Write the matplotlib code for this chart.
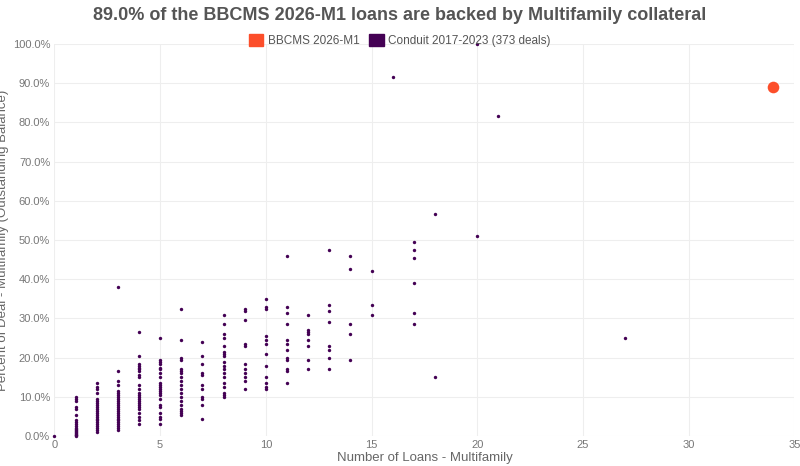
import matplotlib
matplotlib.use("Agg")
import matplotlib.pyplot as plt
from matplotlib.ticker import FuncFormatter
from matplotlib.patches import Patch

plt.rcParams['font.family'] = ['Liberation Sans', 'DejaVu Sans']

conduit_groups = {
    0: [0],
    1: [10, 9.5, 9, 7.5, 7, 5.5, 4, 3.5, 3, 2.5, 2, 1.8, 1.5, 1.2, 1, 0.8, 0.5, 0.3, 0.2, 0],
    2: [13.5, 12.5, 12, 11, 9.5, 9, 8.5, 8, 7.5, 7, 6.5, 6, 5.5, 5, 4.5, 4, 3.5, 3, 2.5, 2, 1.5, 1],
    3: [38, 16.5, 14, 13, 11.5, 11, 10.5, 10, 9.5, 9, 8.5, 8, 7.5, 7, 6.5, 6, 5.5, 5, 4.5, 4, 3.5, 3, 2.5, 2, 1.5],
    4: [26.5, 20.5, 18.5, 18, 17.5, 17, 16.5, 15.5, 15, 13, 12, 11, 10.5, 10, 9.5, 9, 8.5, 8, 7.5, 7, 6, 5, 4, 3],
    5: [25, 19.5, 19, 18.5, 17.5, 17, 16, 15, 13.5, 13, 12.5, 12, 11.5, 11, 10.5, 9.5, 8, 7.5, 6, 5, 4.5, 3],
    6: [32.5, 24.5, 20, 19.5, 17, 16.5, 16, 15, 14, 13, 12, 11, 10, 9, 8, 7, 6.5, 6, 5.5],
    7: [24, 20.5, 18.5, 16, 15.5, 13, 12, 10, 9.5, 8, 4.5],
    8: [31, 28.5, 26, 25, 23, 21.5, 21, 20.5, 19, 18, 17, 16, 15, 13.5, 12.5, 11, 10.5, 10],
    9: [32.5, 32, 29.5, 23.5, 23, 18.5, 17, 16, 15, 14, 12],
    10: [35, 33, 32.5, 25.5, 24.5, 23.5, 21, 18, 15, 13.5, 12.5, 12],
    11: [46, 33, 31.5, 28.5, 24.5, 23.5, 22, 20, 19.5, 17, 16.5, 13.5],
    12: [31, 27, 26.5, 26, 24.5, 23, 19.5, 17],
    13: [47.5, 33.5, 32, 29, 23, 22, 20, 17],
    14: [46, 42.5, 28.5, 26, 19.5],
    15: [42, 33.5, 31],
    16: [91.5],
    17: [49.5, 47.5, 45.5, 39, 31.5, 28.5],
    18: [56.5, 15],
    20: [100, 51],
    21: [81.5],
    27: [25],
}
conduit_x = [k for k, v in conduit_groups.items() for _ in v]
conduit_y = [y for v in conduit_groups.values() for y in v]
deal_x = [34]
deal_y = [89.0]

fig = plt.figure(figsize=(8, 4.66), dpi=100)
ax = fig.add_axes([0.068, 0.064, 0.925, 0.842])
ax.scatter(conduit_x, conduit_y, s=6, color='#440154', zorder=3, linewidths=0, clip_on=False)
ax.scatter(deal_x, deal_y, s=70, color='#fc4e2a', zorder=4, linewidths=0)
ax.set_xlim(0, 35)
ax.set_ylim(0, 100)
ax.set_xticks(range(0, 36, 5))
ax.set_yticks(range(0, 101, 10))
ax.yaxis.set_major_formatter(FuncFormatter(lambda v, p: f"{v:.1f}%"))
for s in ax.spines.values():
    s.set_visible(False)
ax.grid(True, color='#eeeeee', linewidth=0.8)
ax.tick_params(axis='both', length=0, colors='#777777', labelsize=8)
ax.tick_params(axis='x', pad=3)
ax.tick_params(axis='y', pad=3)
ax.set_xlabel("Number of Loans - Multifamily", color='#666666', fontsize=9.5, labelpad=1)
ax.set_ylabel("Percent of Deal - Multifamily (Outstanding Balance)", color='#666666', fontsize=9.5, labelpad=3)
fig.suptitle("89.0% of the BBCMS 2026-M1 loans are backed by Multifamily collateral",
             x=0.5, y=0.985, fontsize=13, fontweight='bold', color='#555555')
handles = [Patch(color='#fc4e2a', label='BBCMS 2026-M1'),
           Patch(color='#440154', label='Conduit 2017-2023 (373 deals)')]
fig.legend(handles=handles, loc='upper center', bbox_to_anchor=(0.5, 0.95), ncol=2,
           frameon=False, fontsize=8.5, labelcolor='#555555', handlelength=1.2,
           handleheight=1.2, columnspacing=0.8, handletextpad=0.4)
fig.savefig("out.png", dpi=100)
